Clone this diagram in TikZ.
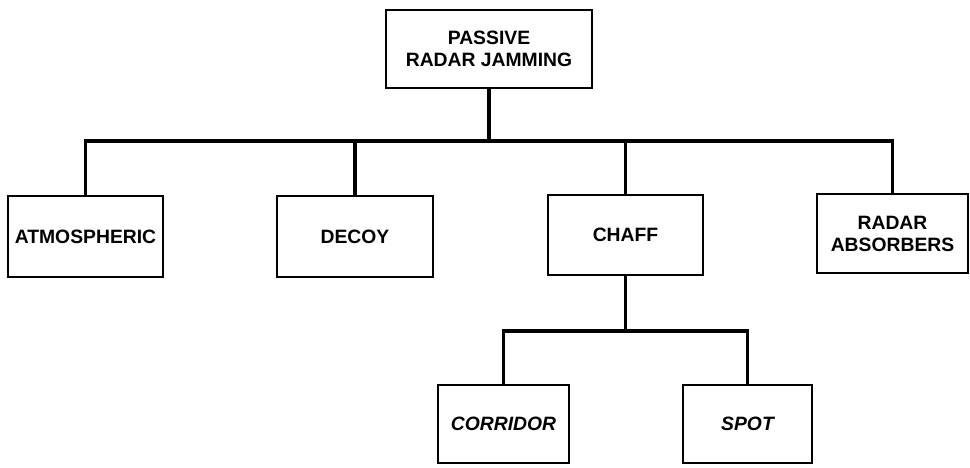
\documentclass[tikz,border=0pt]{standalone}
\usepackage{fontspec}
\setmainfont{Liberation Sans}
\usepackage{tikz}

\begin{document}
\begin{tikzpicture}[x=0.02cm, y=-0.02cm,
	every node/.style={font=\fontsize{11}{12.5}\selectfont\bfseries},
	unit/.style={draw, line width=1.5pt, align=center, inner sep=2pt, minimum height=1.6cm},
	sub/.style={unit, font=\fontsize{11}{12.5}\selectfont\bfseries\itshape},
	link/.style={line width=1.8pt}]
	\useasboundingbox (0,0) rectangle (970,467);
	\node[unit, minimum width=4.12cm, minimum height=1.56cm] (jam) at (489,49) {PASSIVE\\RADAR JAMMING};
	\node[unit, minimum width=3.1cm, minimum height=1.62cm] (atm) at (85.5,236.5) {ATMOSPHERIC};
	\node[unit, minimum width=3.12cm, minimum height=1.62cm] (decoy) at (355,236.5) {DECOY};
	\node[unit, minimum width=3.1cm] (chaff) at (625.5,235) {CHAFF};
	\node[unit, minimum width=3.02cm, minimum height=1.58cm] (absorb) at (892.5,233.5) {RADAR\\ABSORBERS};
	\node[sub, minimum width=2.62cm, minimum height=1.56cm] (corridor) at (503.5,424) {CORRIDOR};
	\node[sub, minimum width=2.58cm, minimum height=1.56cm] (spot) at (747.5,424) {SPOT};
	% branch lines
	\coordinate (bus) at (489,141);
	\coordinate (chaffbus) at (625,331);
	\draw[link] (jam.south) -- (jam.south |- bus);
	\draw[link] (atm.north) -- (atm.north |- bus) -- (absorb.north |- bus) -- (absorb.north);
	\draw[link] (decoy.north) -- (decoy.north |- bus);
	\draw[link] (chaff.north) -- (chaff.north |- bus);
	\draw[link] (chaff.south) -- (chaff.south |- chaffbus);
	\draw[link] (corridor.north) -- (corridor.north |- chaffbus) -- (spot.north |- chaffbus) -- (spot.north);
\end{tikzpicture}
\end{document}
